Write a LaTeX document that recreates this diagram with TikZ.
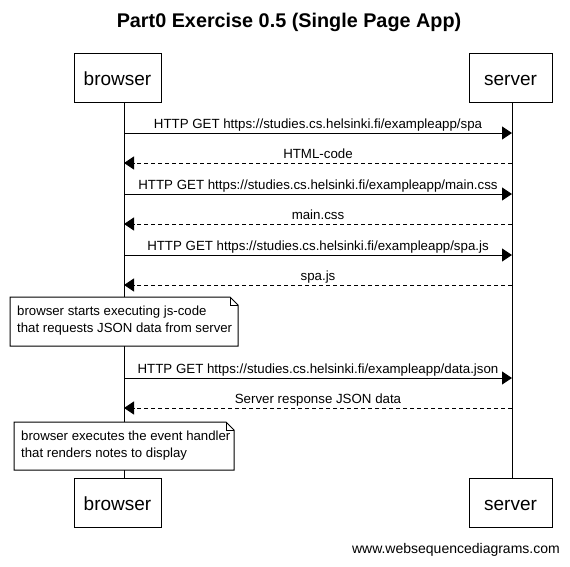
\documentclass[tikz,border=0pt]{standalone}
\usepackage{fontspec}
\setmainfont{Liberation Sans}
\usetikzlibrary{arrows.meta}
\begin{document}
\begin{tikzpicture}[x=1pt,y=-1pt,
  actor/.style={draw,line width=1pt,minimum width=87pt,minimum height=49pt,inner sep=0pt,text height=18pt,text depth=3pt,font=\fontsize{19}{22}\selectfont},
  lifeline/.style={line width=1pt},
  msg/.style={line width=1pt,-{Triangle[length=10pt,width=13pt]}},
  reply/.style={msg,dash pattern=on 4pt off 3pt},
  lbl/.style={font=\fontsize{13.3}{15}\selectfont,anchor=south,inner sep=1.5pt,text height=10pt,text depth=3pt},
  notetext/.style={font=\fontsize{13.2}{17}\selectfont,align=left,anchor=north west,inner sep=0pt}
]
\useasboundingbox (0,0) rectangle (570,566);
\node[font=\bfseries\fontsize{19.8}{23}\selectfont] (title) at (289,22) {Part0 Exercise 0.5 (Single Page App)};

\node[actor] (bt) at (117.5,77.5) {browser};
\node[actor,minimum width=83pt] (st) at (510.5,77.5) {server};
\node[actor] (bb) at (117.5,503) {browser};
\node[actor,minimum width=83pt] (sb) at (510.5,503) {server};

\coordinate (bx) at (124,0);
\coordinate (sx) at (512,0);
\draw[lifeline] (bx |- bt.south) -- (bx |- bb.north);
\draw[lifeline] (sx |- st.south) -- (sx |- sb.north);

% messages
\foreach \y/\dir/\sty/\txt in {
  133/1/msg/{HTTP GET https://studies.cs.helsinki.fi/exampleapp/spa},
  163/0/reply/{HTML-code},
  194/1/msg/{HTTP GET https://studies.cs.helsinki.fi/exampleapp/main.css},
  224/0/reply/{main.css},
  255/1/msg/{HTTP GET https://studies.cs.helsinki.fi/exampleapp/spa.js},
  285/0/reply/{spa.js},
  378/1/msg/{HTTP GET https://studies.cs.helsinki.fi/exampleapp/data.json},
  408/0/reply/{Server response JSON data}}{
  \coordinate (l) at (124,\y);
  \coordinate (r) at (512,\y);
  \ifnum\dir=1
    \draw[\sty] (l) -- (r);
  \else
    \draw[\sty] (r) -- (l);
  \fi
  \node[lbl] at (318,\y) {\txt};
}

% notes
\draw[line width=1pt,fill=white] (10,297) -- (230,297) -- (238,305) -- (238,346) -- (10,346) -- cycle;
\draw[line width=0.8pt] (230,297) -- (230,305) -- (238,305);
\node[notetext] (n1) at (17,306) {browser starts executing js-code\\that requests JSON data from server};

\draw[line width=1pt,fill=white] (14,422) -- (226,422) -- (234,430) -- (234,470) -- (14,470) -- cycle;
\draw[line width=0.8pt] (226,422) -- (226,430) -- (234,430);
\node[notetext] (n2) at (21,431) {browser executes the event handler\\that renders notes to display};

\node[font=\fontsize{14}{16}\selectfont,anchor=east,inner sep=0pt] (foot) at (560,550) {www.websequencediagrams.com};
\end{tikzpicture}
\end{document}
